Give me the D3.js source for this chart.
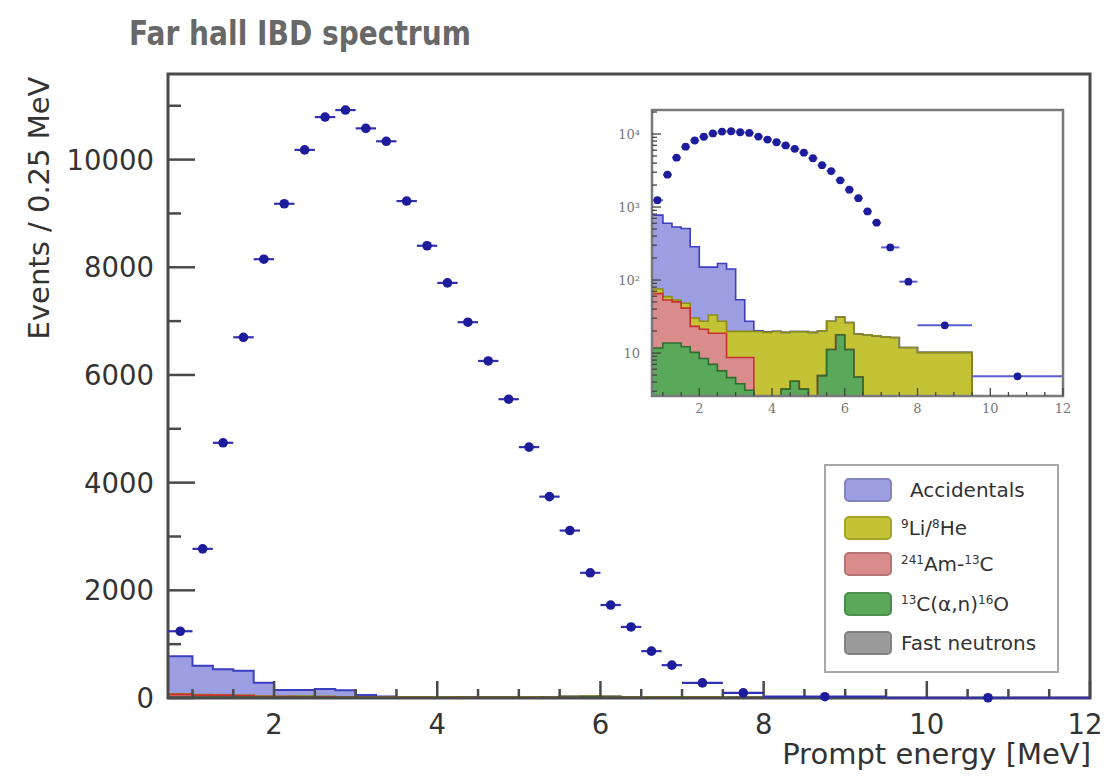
<!DOCTYPE html>
<html><head><meta charset="utf-8">
<script src="https://cdn.jsdelivr.net/npm/d3@7"></script>
<style>body{margin:0;background:#fff}svg{display:block}</style>
</head><body>
<svg id="c" width="1104" height="777"></svg>
<script>
// ---- data ----
const dataEdges = [0.7,1.0,1.25,1.5,1.75,2.0,2.25,2.5,2.75,3.0,3.25,3.5,3.75,4.0,4.25,4.5,4.75,5.0,5.25,5.5,5.75,6.0,6.25,6.5,6.75,7.0,7.5,8.0,9.5,12.0];
const dataCounts = [1240,2770,4740,6700,8150,9180,10180,10790,10920,10580,10340,9230,8400,7710,6980,6260,5550,4660,3740,3110,2325,1727,1320,870,610,280,95,24,4.8];
const bkgEdges = [0.7,1.0,1.25,1.5,1.75,2.0,2.25,2.5,2.75,3.0,3.25,3.5,3.75,4.0,4.25,4.5,4.75,5.0,5.25,5.5,5.75,6.0,6.25,6.5,6.75,7.0,7.25,7.5,7.75,8.0,9.5,12.0];
const fastNeutrons   = [0.2,0.2,0.2,0.2,0.2,0.2,0.2,0.2,0.2,0.2,0.2,0.2,0.2,0.2,0.2,0.2,0.2,0.2,0.2,0.2,0.2,0.2,0.2,0.2,0.2,0.2,0.2,0.2,0.2,0.2,0.2];
const carbonAlphaN   = [11.5,13.5,13.5,12,10,8.2,6.8,5.5,4.4,3.6,2.9,1,1,1.5,3,3.9,3,2,4.7,11,17.6,11,4.5,1,0.5,0.3,0.3,0.2,0.2,0.1,0];
const americiumCarbon= [53.5,39.5,36.5,29,13,12.8,11.7,13,4.1,4.9,5.6,0,0,0,0,0,0,0,0,0,0,0,0,0,0,0,0,0,0,0,0];
const lithiumHelium  = [10,6,3,7,7,6,14.5,8.5,11.1,11.1,11.1,18.5,18,18,16,15.6,16.5,17,15.3,16,13.4,15,13.5,16.6,16.5,16,15.8,11.5,11.5,9.9,0];
const accidentals    = [700,540,480,460,255,123,117,141,122,34,7.4,0.5,0.3,0.2,0,0,0,0,0,0,0,0,0,0,0,0,0,0,0,0,0];
const xTickLabels = [2,4,6,8,10,12];
const yTickLabels = [0,2000,4000,6000,8000,10000];
const insetYTickLabels = [10,100,1000,10000];
const seriesKeys = ["fast","calpha","amc","lihe","acc"]; // bottom -> top
const seriesFill   = {acc:"#9d9de2", lihe:"#c3c335", amc:"#d98c8c", calpha:"#5aa95a", fast:"#9a9a9a"};
const seriesStroke = {acc:"#3d3dc2", lihe:"#8e8e12", amc:"#c83030", calpha:"#2d6e2d", fast:"#555555"};
const legendItems = [
  {key:"acc",    parts:[["Accidentals",0]]},
  {key:"lihe",   parts:[["9",1],["Li/",0],["8",1],["He",0]]},
  {key:"amc",    parts:[["241",1],["Am-",0],["13",1],["C",0]]},
  {key:"calpha", parts:[["13",1],["C(α,n)",0],["16",1],["O",0]]},
  {key:"fast",   parts:[["Fast neutrons",0]]}
];

// ---- build stacked rows ----
const rows = accidentals.map((_,i)=>({lo:bkgEdges[i],hi:bkgEdges[i+1],
  fast:fastNeutrons[i],calpha:carbonAlphaN[i],amc:americiumCarbon[i],lihe:lithiumHelium[i],acc:accidentals[i]}));
const stacked = d3.stack().keys(seriesKeys)(rows);
const points = dataCounts.map((v,i)=>({lo:dataEdges[i],hi:dataEdges[i+1],c:(dataEdges[i]+dataEdges[i+1])/2,v}));

const svg = d3.select("#c");
const FONT = "DejaVu Sans, Verdana, sans-serif";
const axisCol = "#4a4a4a";

// ---- main scales ----
const x = d3.scaleLinear([0.7,12],[168,1090]);
const y = d3.scaleLinear([0,11590],[698,74]);

svg.append("defs").append("clipPath").attr("id","mainclip")
  .append("rect").attr("x",168).attr("y",74).attr("width",922).attr("height",624);

function stepPts(layer){
  const pts=[];
  layer.forEach((d,i)=>{ pts.push({x:rows[i].lo, y0:d[0], y1:d[1]}); pts.push({x:rows[i].hi, y0:d[0], y1:d[1]}); });
  return pts;
}
function drawStack(g, xs, ys, lw){
  stacked.forEach(layer=>{
    g.append("path").datum(stepPts(layer))
      .attr("d", d3.area().x(d=>xs(d.x)).y0(d=>ys(d.y0)).y1(d=>ys(d.y1)))
      .attr("fill", seriesFill[layer.key]).attr("stroke","none");
  });
  stacked.slice().reverse().forEach(layer=>{
    g.append("path").datum(stepPts(layer))
      .attr("d", d3.line().x(d=>xs(d.x)).y(d=>ys(d.y1)))
      .attr("fill","none").attr("stroke", seriesStroke[layer.key]).attr("stroke-width",lw);
  });
}

const gMain = svg.append("g").attr("clip-path","url(#mainclip)");
drawStack(gMain, x, y, 2);

// ---- main frame & ticks ----
svg.append("rect").attr("x",168).attr("y",74).attr("width",922).attr("height",624)
  .attr("fill","none").attr("stroke",axisCol).attr("stroke-width",3);
const gT = svg.append("g").attr("stroke",axisCol).attr("stroke-width",2.5);
d3.range(0,11001,1000).forEach(v=>{
  const major = v%2000===0;
  gT.append("line").attr("x1",168).attr("x2",168+(major?27:13)).attr("y1",y(v)).attr("y2",y(v));
});
d3.range(2,25).map(k=>k*0.5).forEach(v=>{
  const major = v%2===0;
  gT.append("line").attr("x1",x(v)).attr("x2",x(v)).attr("y1",698).attr("y2",698-(major?17:9));
});
svg.append("g").selectAll("text").data(yTickLabels).join("text")
  .attr("x",154).attr("y",d=>y(d)).attr("dy","0.36em").attr("text-anchor","end")
  .attr("font-family",FONT).attr("font-size",27.5).attr("fill","#333").text(d=>d);
svg.append("g").selectAll("text").data(xTickLabels).join("text")
  .attr("x",d=>Math.min(x(d),1085)).attr("y",734).attr("text-anchor","middle")
  .attr("font-family",FONT).attr("font-size",27.5).attr("fill","#333").text(d=>d);
svg.append("text").attr("x",1091).attr("y",764).attr("text-anchor","end")
  .attr("font-family",FONT).attr("font-size",29).attr("fill","#333").text("Prompt energy [MeV]");
svg.append("text").attr("transform","translate(49,208) rotate(-90)").attr("text-anchor","middle")
  .attr("font-family",FONT).attr("font-size",29).attr("fill","#333").text("Events / 0.25 MeV");

// ---- main data points ----
const gP = svg.append("g");
gP.selectAll("line").data(points).join("line")
  .attr("x1",d=>x(d.lo)).attr("x2",d=>x(d.hi)).attr("y1",d=>y(d.v)).attr("y2",d=>y(d.v))
  .attr("stroke","#3030b0").attr("stroke-width",2.2);
gP.selectAll("circle").data(points).join("circle")
  .attr("cx",d=>x(d.c)).attr("cy",d=>y(d.v)).attr("r",4.8).attr("fill","#1c1c9c");

// ---- title ----
const title = svg.append("text").attr("x",0).attr("y",0)
  .attr("transform","translate(129,45) scale(1,1.18)")
  .attr("font-family","DejaVu Sans, sans-serif")
  .attr("font-weight",700).attr("font-size",34).attr("fill","#686868").text("Far hall IBD spectrum");
const tw = title.node().getComputedTextLength();
title.attr("font-size", 34*342/tw);

// ---- inset ----
const xi = d3.scaleLinear([0.7,12],[652,1063]);
const yi = d3.scaleLog([2.58,21330],[396,110]).clamp(true);
const yiSafe = v => yi(Math.max(v,1e-3));
svg.append("rect").attr("x",652).attr("y",110).attr("width",411).attr("height",286).attr("fill","#fff");
svg.select("defs").append("clipPath").attr("id","insetclip")
  .append("rect").attr("x",652).attr("y",110).attr("width",411).attr("height",286);
const gIn = svg.append("g").attr("clip-path","url(#insetclip)");
drawStack(gIn, xi, yiSafe, 1.6);
const gIP = svg.append("g");
gIP.selectAll("line").data(points).join("line")
  .attr("x1",d=>xi(d.lo)).attr("x2",d=>xi(d.hi)).attr("y1",d=>yiSafe(d.v)).attr("y2",d=>yiSafe(d.v))
  .attr("stroke","#5c5cd2").attr("stroke-width",2);
gIP.selectAll("circle").data(points).join("circle")
  .attr("cx",d=>xi(d.c)).attr("cy",d=>yiSafe(d.v)).attr("r",3.9).attr("fill","#1c1c9c");
svg.append("rect").attr("x",652).attr("y",110).attr("width",411).attr("height",286)
  .attr("fill","none").attr("stroke","#7a7a7a").attr("stroke-width",2.5);
const gIT = svg.append("g").attr("stroke","#444").attr("stroke-width",1.3);
[1,10,100,1000,10000].forEach(dec=>{
  [1,2,3,4,5,6,7,8,9].forEach(m=>{
    const v = dec*m; if(v<2.58||v>21330) return;
    gIT.append("line").attr("x1",652).attr("x2",652+(m===1?9:5)).attr("y1",yi(v)).attr("y2",yi(v));
  });
});
d3.range(2,25).map(k=>k*0.5).forEach(v=>{
  const major = v%2===0;
  gIT.append("line").attr("x1",xi(v)).attr("x2",xi(v)).attr("y1",396).attr("y2",396-(major?8:4));
});
const supDigits = {"0":"⁰","1":"¹","2":"²","3":"³","4":"⁴"};
svg.append("g").selectAll("text").data(insetYTickLabels).join("text")
  .attr("x",640).attr("y",d=>yi(d)).attr("dy","0.35em").attr("text-anchor","end")
  .attr("font-family","DejaVu Serif, serif").attr("font-size",13).attr("fill","#777")
  .text(d=> d===10 ? "10" : "10"+supDigits[String(Math.round(Math.log10(d)))]);
svg.append("g").selectAll("text").data(xTickLabels).join("text")
  .attr("x",d=>xi(d)).attr("y",413).attr("text-anchor","middle")
  .attr("font-family","DejaVu Serif, serif").attr("font-size",13).attr("fill","#777").text(d=>d);

// ---- legend ----
svg.append("rect").attr("x",825).attr("y",465).attr("width",233).attr("height",207)
  .attr("fill","#fff").attr("stroke","#a8a8a8").attr("stroke-width",2);
const legY = [490,528,564,604,643];
legendItems.forEach((it,i)=>{
  svg.append("rect").attr("x",845).attr("y",legY[i]-11).attr("width",46).attr("height",22).attr("rx",4)
    .attr("fill",seriesFill[it.key]).attr("stroke",d3.color(seriesFill[it.key]).darker(0.5)).attr("stroke-width",2);
  const t = svg.append("text").attr("x", i===0?910:901).attr("y",legY[i]+7)
    .attr("font-family",FONT).attr("font-size",20).attr("fill","#333");
  it.parts.forEach(([s,sup])=>{
    const ts = t.append("tspan").text(s);
    if(sup) ts.attr("font-size",12).attr("baseline-shift","55%");
  });
});
</script>
</body></html>
